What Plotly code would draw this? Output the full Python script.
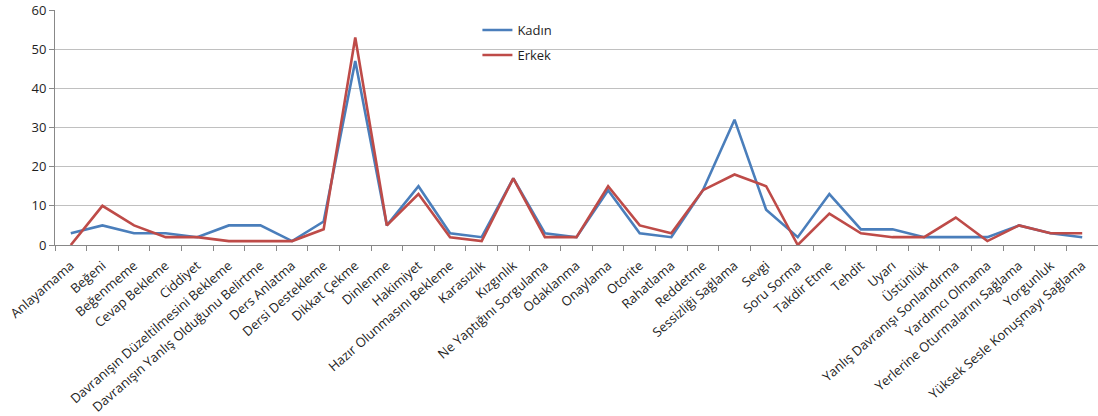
import plotly.graph_objects as go

categories = [
    "Anlayamama", "Beğeni", "Beğenmeme", "Cevap Bekleme", "Ciddiyet",
    "Davranışın Düzeltilmesini Bekleme", "Davranışın Yanlış Olduğunu Belirtme",
    "Ders Anlatma", "Dersi Destekleme", "Dikkat Çekme", "Dinlenme", "Hakimiyet",
    "Hazır Olunmasını Bekleme", "Karasızlık", "Kızgınlık", "Ne Yaptığını Sorgulama",
    "Odaklanma", "Onaylama", "Otorite", "Rahatlama", "Reddetme",
    "Sessizliği Sağlama", "Sevgi", "Soru Sorma", "Takdir Etme", "Tehdit", "Uyarı",
    "Üstünlük", "Yanlış Davranışı Sonlandırma", "Yardımcı Olmama",
    "Yerlerine Oturmalarını Sağlama", "Yorgunluk", "Yüksek Sesle Konuşmayı Sağlama",
]
kadin = [3, 5, 3, 3, 2, 5, 5, 1, 6, 47, 5, 15, 3, 2, 17, 3, 2, 14, 3, 2, 14,
         32, 9, 2, 13, 4, 4, 2, 2, 2, 5, 3, 2]
erkek = [0, 10, 5, 2, 2, 1, 1, 1, 4, 53, 5, 13, 2, 1, 17, 2, 2, 15, 5, 3, 14,
         18, 15, 0, 8, 3, 2, 2, 7, 1, 5, 3, 3]
y_ticks = [0, 10, 20, 30, 40, 50, 60]

FONT = "Open Sans"
TXT = "#1e1e1e"

fig = go.Figure()
fig.add_trace(go.Scatter(x=categories, y=kadin, mode="lines", name="Kadın", showlegend=True,
                         line=dict(color="#4a7ebb", width=2.6), legend="legend"))
fig.add_trace(go.Scatter(x=categories, y=erkek, mode="lines", name="Erkek", showlegend=True,
                         line=dict(color="#be4b48", width=2.6), legend="legend2"))

legend_common = dict(bgcolor="rgba(0,0,0,0)", font=dict(family=FONT, size=13, color=TXT),
                     xanchor="left", yanchor="middle", itemwidth=30, visible=True)

fig.update_layout(
    width=1098, height=416,
    margin=dict(l=55, r=0, t=10, b=171, autoexpand=False),
    showlegend=True,
    paper_bgcolor="white", plot_bgcolor="white",
    font=dict(family=FONT, color=TXT),
    legend=dict(x=0.405, y=1 - (30 - 10) / 235, **legend_common),
    legend2=dict(x=0.405, y=1 - (55 - 10) / 235, **legend_common),
    xaxis=dict(
        type="category", range=[-0.5, len(categories) - 0.5],
        tickangle=-41, tickfont=dict(family=FONT, size=13, color=TXT),
        ticklabelstandoff=7,
        showgrid=False, showline=True, linecolor="#888", linewidth=1,
        ticks="outside", tickson="boundaries", ticklen=5, tickcolor="#888",
        automargin=False,
    ),
    yaxis=dict(
        range=[0, 60], tickvals=y_ticks, tickfont=dict(family=FONT, size=13, color=TXT),
        showgrid=True, gridcolor="#c0c0c0", gridwidth=1,
        showline=True, linecolor="#888", linewidth=1,
        ticks="outside", ticklen=5, tickcolor="#888", zeroline=False,
        automargin=False,
    ),
)

# remove the default 8px page margin so the figure sits at the window's top-left corner
fig.write_html("out.html", config={"displayModeBar": False},
               post_script="document.body.style.margin='0';")
